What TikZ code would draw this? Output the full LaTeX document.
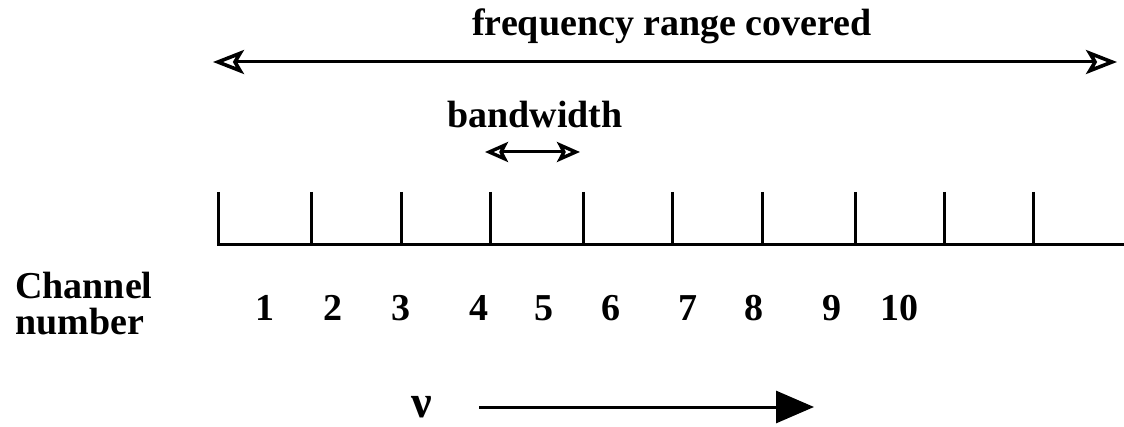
\documentclass[tikz,border=0pt]{standalone}
\usepackage{fontspec}
\setmainfont{Liberation Serif}
\usetikzlibrary{arrows.meta}
\begin{document}
\begin{tikzpicture}[x=1pt,y=-1pt,
  lbl/.style={font=\fontsize{38}{36}\selectfont\bfseries, inner sep=0pt, anchor=base},
  rangearrow/.style={line width=3pt, {Stealth[open,length=31pt,width=24pt,inset=7pt,line width=3.6pt]}-{Stealth[open,length=31pt,width=24pt,inset=7pt,line width=3.6pt]}},
  bwarrow/.style={line width=3pt, {Stealth[open,length=23pt,width=20pt,inset=5pt,line width=3.4pt]}-{Stealth[open,length=23pt,width=20pt,inset=5pt,line width=3.4pt]}},
  axisline/.style={line width=3pt},
  nuarrow/.style={line width=3pt, -{Triangle[length=38pt,width=32pt]}}]
\useasboundingbox (0,0) rectangle (1124,427);
% frequency range
\node[lbl] (title) at (672,36) {frequency range covered};
\coordinate (fl) at (213,62);
\coordinate (fr) at (1117,62);
\draw[rangearrow] (fl) -- (fr);
% bandwidth
\node[lbl] (bw) at (535,128) {bandwidth};
\coordinate (bl) at (485,152);
\coordinate (br) at (580,152);
\draw[bwarrow] (bl) -- (br);
% axis
\coordinate (a0) at (217,245);
\coordinate (a1) at (1124,245);
\draw[axisline] (a0) -- (a1);
\foreach \x [count=\i] in {218,311,401,490,583,672,762,855,944,1033}{
  \coordinate (t\i) at (\x,192);
  \coordinate (b\i) at (\x,245);
  \draw[axisline] (t\i) -- (b\i);
}
% channel numbers
\node[lbl, anchor=base west] (ch1) at (15,299) {Channel};
\node[lbl, anchor=base west] (ch2) at (15,335) {number};
\foreach \x/\n in {265/1,333/2,401/3,479/4,544/5,611/6,688/7,754/8,832/9,899/10}{
  \node[lbl] (c\n) at (\x,321) {\n};
}
% nu arrow
\node[lbl, font=\fontsize{46}{46}\selectfont\bfseries] (nu) at (422,417) {ν};
\coordinate (ns) at (479,407);
\coordinate (ne) at (814,407);
\draw[nuarrow] (ns) -- (ne);
\end{tikzpicture}
\end{document}
